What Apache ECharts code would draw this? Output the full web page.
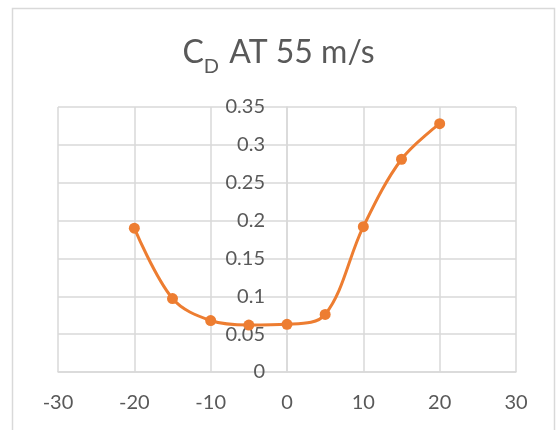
<!DOCTYPE html>
<html>
<head>
<meta charset="utf-8">
<script src="https://cdn.jsdelivr.net/npm/echarts@6/dist/echarts.min.js"></script>
<style>
  html, body { margin: 0; padding: 0; background: #ffffff; }
  #chart { width: 557px; height: 430px; }
</style>
</head>
<body>
<div id="chart"></div>
<script>
// Angle of attack (degrees) and drag coefficient at 55 m/s
const angles = [-20, -15, -10, -5, 0, 5, 10, 15, 20];
const dragCoeff = [0.190, 0.097, 0.068, 0.062, 0.063, 0.076, 0.192, 0.281, 0.328];

const xTicks = { min: -30, max: 30, step: 10 };
const yTicks = { min: 0, max: 0.35, step: 0.05 };

const FONT = 'Lato, "Open Sans", "Liberation Sans", sans-serif';
const TEXT = '#595959';
const GRID = '#d9d9d9';

const chart = echarts.init(document.getElementById('chart'), null, { renderer: 'canvas' });

// plot box, in pixels
const plot = { left: 58, top: 107, right: 41, bottom: 58 };
const plotWidth = 557 - plot.left - plot.right;
// the vertical axis crosses the horizontal one at x = 0
const yAxisShift = -plotWidth * (0 - xTicks.min) / (xTicks.max - xTicks.min);

chart.setOption({
  backgroundColor: '#ffffff',
  animation: false,
  graphic: [{
    type: 'rect',
    shape: { x: 12.5, y: 8.5, width: 542, height: 440 },
    style: { fill: 'none', stroke: GRID, lineWidth: 1.5 },
    silent: true
  }],
  title: {
    text: '{a|C}{b|D}{a| AT 55 m/s}',
    left: 'center',
    top: 24,
    textStyle: {
      rich: {
        a: { fontFamily: FONT, fontSize: 32, fontWeight: 'normal', color: TEXT, lineHeight: 40, verticalAlign: 'bottom' },
        b: { fontFamily: FONT, fontSize: 20, fontWeight: 'normal', color: TEXT, lineHeight: 40, verticalAlign: 'bottom', padding: [0, 2, -8, 0] }
      }
    }
  },
  grid: { left: plot.left, top: plot.top, right: plot.right, bottom: plot.bottom, containLabel: false },
  xAxis: {
    type: 'value',
    min: xTicks.min, max: xTicks.max, interval: xTicks.step,
    axisLine: { show: true, onZero: false, lineStyle: { color: GRID, width: 1.5 } },
    axisTick: { show: false },
    axisLabel: { color: TEXT, fontFamily: FONT, fontSize: 20, margin: 21 },
    splitLine: { show: true, lineStyle: { color: GRID, width: 1.5 } }
  },
  yAxis: {
    type: 'value',
    position: 'left',
    offset: yAxisShift,
    min: yTicks.min, max: yTicks.max, interval: yTicks.step,
    axisLine: { show: true, onZero: false, lineStyle: { color: GRID, width: 1.5 } },
    axisTick: { show: false },
    axisLabel: {
      color: TEXT, fontFamily: FONT, fontSize: 20, margin: 22,
      formatter: v => String(parseFloat(v.toFixed(2)))
    },
    splitLine: { show: true, lineStyle: { color: GRID, width: 1.5 } }
  },
  series: [{
    type: 'line',
    data: angles.map((a, i) => [a, dragCoeff[i]]),
    smooth: 0.35,
    symbol: 'circle',
    symbolSize: 11,
    itemStyle: { color: '#ED7D31' },
    lineStyle: { color: '#ED7D31', width: 3 },
    z: 5
  }]
});
</script>
</body>
</html>
